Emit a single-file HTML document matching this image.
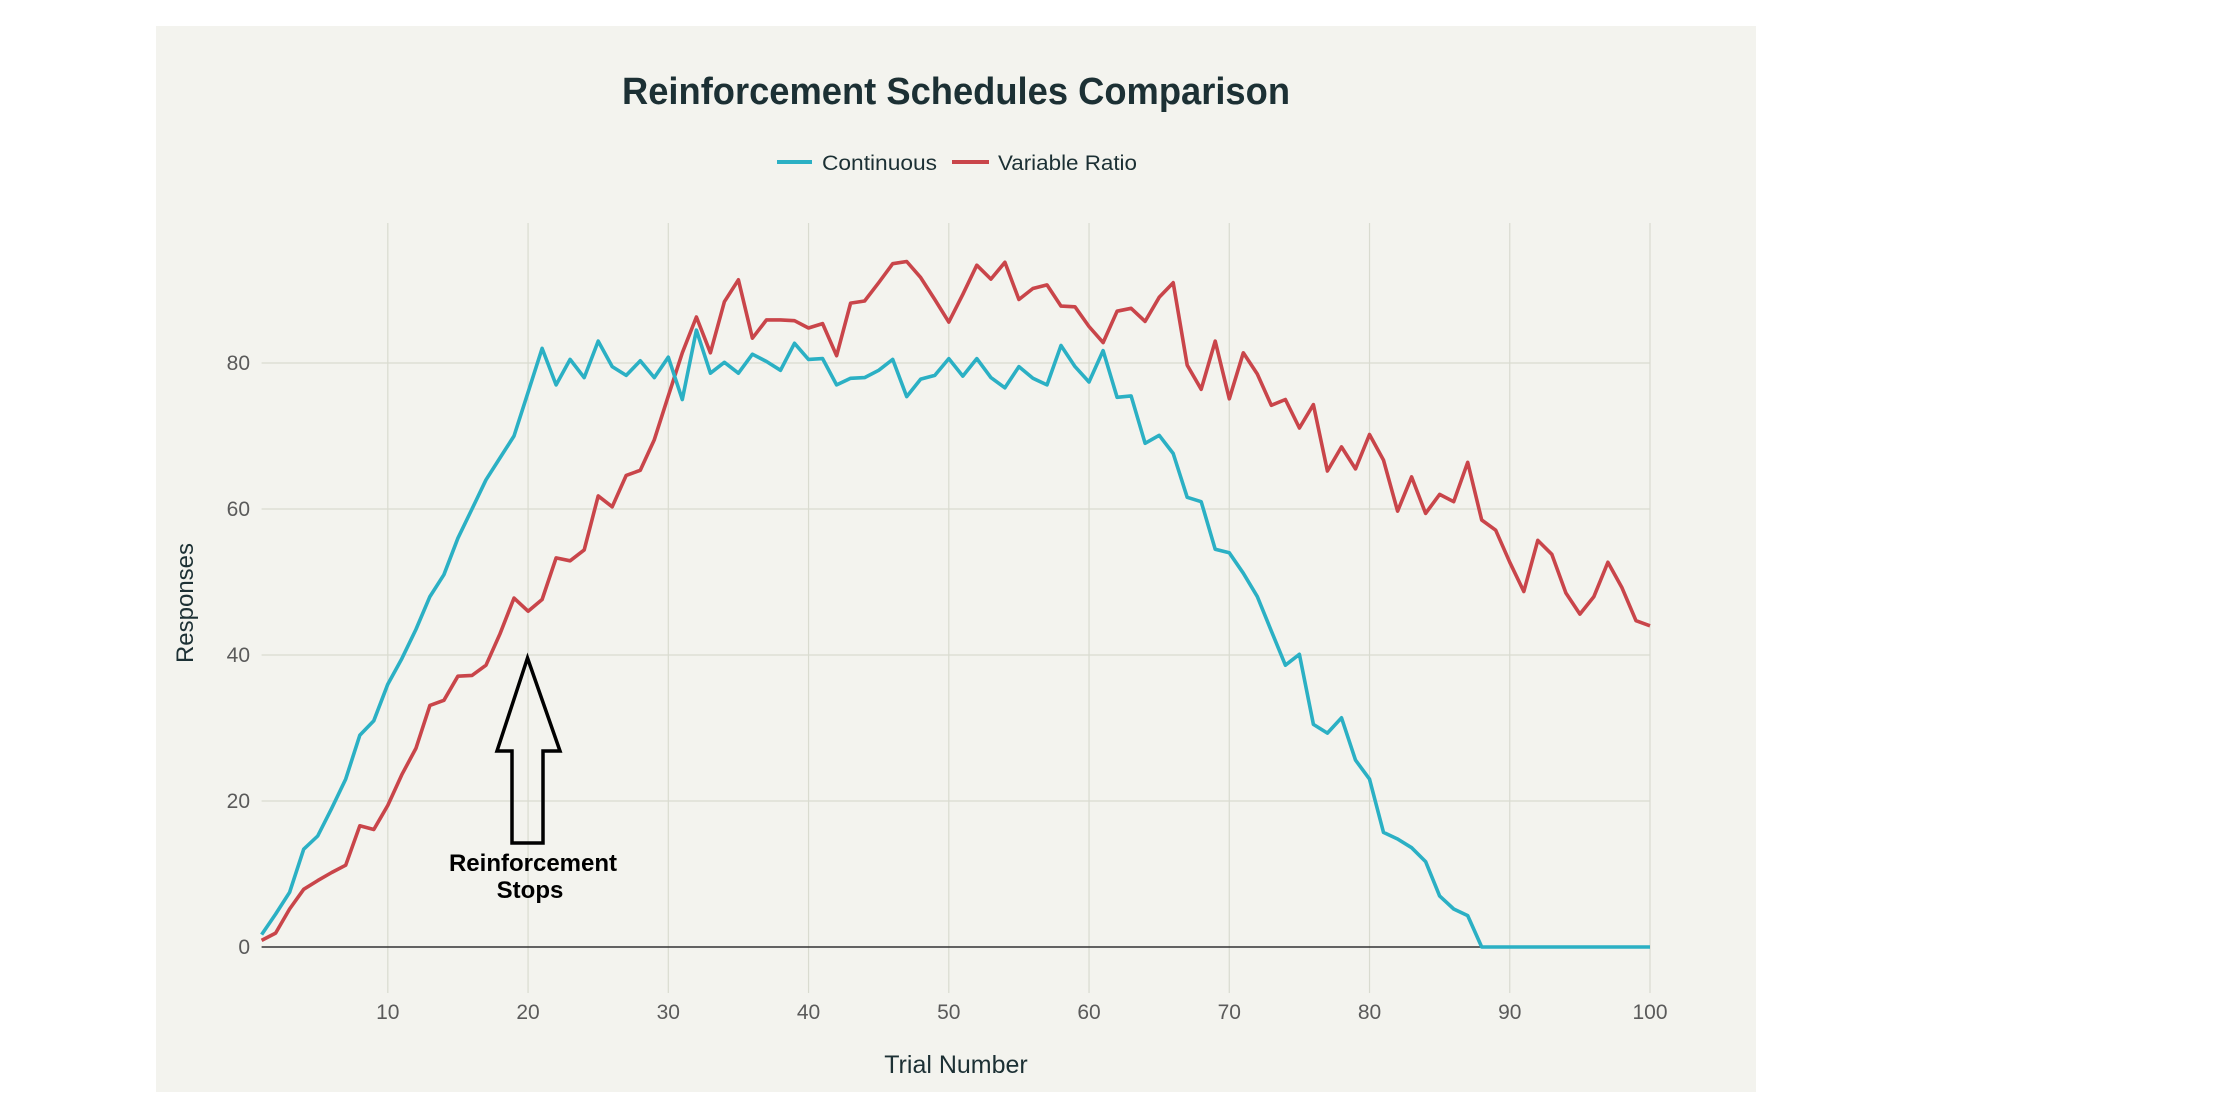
<!DOCTYPE html>
<html><head><meta charset="utf-8"><style>
html,body{margin:0;padding:0;background:#fff;}
svg{display:block;font-family:"Liberation Sans",sans-serif;}
</style></head><body>
<svg id="chart" width="2226" height="1116" viewBox="0 0 2226 1116" xmlns="http://www.w3.org/2000/svg">
<rect x="156" y="26" width="1600" height="1066" fill="#f3f3ee"/>
<text x="956" y="104" text-anchor="middle" font-size="38" font-weight="bold" fill="#1c3034" textLength="668" lengthAdjust="spacingAndGlyphs">Reinforcement Schedules Comparison</text>
<g>
<line x1="777" y1="162" x2="812" y2="162" stroke="#2bb0c4" stroke-width="4"/>
<text x="822" y="170" font-size="21" fill="#1c3034" textLength="115" lengthAdjust="spacingAndGlyphs">Continuous</text>
<line x1="952" y1="162" x2="989" y2="162" stroke="#c9454a" stroke-width="4"/>
<text x="998" y="170" font-size="21" fill="#1c3034" textLength="139" lengthAdjust="spacingAndGlyphs">Variable Ratio</text>
</g>
<g id="grid"></g>
<g id="ticks"></g>
<g id="series"></g>
<text x="956" y="1073" text-anchor="middle" font-size="25" fill="#1c3034">Trial Number</text>
<text x="193" y="603" text-anchor="middle" font-size="24" fill="#1c3034" transform="rotate(-90 193 603)">Responses</text>
<g>
<polygon points="527.5,658 560,751 543,751 543,843 512,843 512,751 497,751" fill="none" stroke="#000" stroke-width="3.5"/>
<text x="533" y="871" text-anchor="middle" font-size="24" font-weight="bold" fill="#000">Reinforcement</text>
<text x="530" y="898" text-anchor="middle" font-size="24" font-weight="bold" fill="#000">Stops</text>
</g>
</svg>
<script>
const trials = Array.from({length:100},(_,i)=>i+1);
const continuous = [1.7,4.5,7.5,13.4,15.2,19,23,29,31,36,39.5,43.5,48,51,56,60,64,67,70,76,82,77,80.5,78,83,79.5,78.3,80.3,78,80.8,75,84.5,78.6,80.1,78.6,81.2,80.2,79,82.7,80.5,80.6,77,77.9,78,79,80.5,75.4,77.8,78.3,80.6,78.2,80.6,78,76.6,79.5,77.9,77,82.4,79.5,77.4,81.7,75.3,75.5,69,70.1,67.6,61.6,61,54.5,54,51.2,48,43.3,38.6,40.1,30.5,29.3,31.4,25.6,23,15.7,14.8,13.6,11.7,7,5.2,4.3,0,0,0,0,0,0,0,0,0,0,0,0,0];
const variableRatio = [0.9,1.9,5.2,7.9,9.1,10.2,11.2,16.6,16.1,19.4,23.6,27.2,33.1,33.8,37.1,37.2,38.6,42.9,47.8,46,47.6,53.3,52.9,54.4,61.8,60.3,64.6,65.3,69.5,75.5,81.4,86.3,81.4,88.4,91.4,83.4,85.9,85.9,85.8,84.8,85.4,81,88.2,88.5,91,93.6,93.9,91.7,88.7,85.6,89.4,93.4,91.5,93.8,88.7,90.2,90.7,87.8,87.7,85,82.8,87.1,87.5,85.7,89,91,79.7,76.4,83,75.1,81.4,78.5,74.2,75,71.1,74.3,65.2,68.5,65.5,70.2,66.7,59.7,64.4,59.4,62,61,66.4,58.5,57.1,52.7,48.7,55.7,53.8,48.5,45.6,48,52.7,49.2,44.7,44];
const xTicks = [10,20,30,40,50,60,70,80,90,100];
const yTicks = [0,20,40,60,80];

const NS='http://www.w3.org/2000/svg';
const X0=261.6, X1=1650, Y0=947, PXU=7.3;
const xs = v => X0 + (v-1)*(X1-X0)/99;
const ys = v => Y0 - v*PXU;
function mk(tag, attrs, parent){const e=document.createElementNS(NS,tag);for(const k in attrs)e.setAttribute(k,attrs[k]);parent.appendChild(e);return e;}
const grid=document.getElementById('grid'), ticks=document.getElementById('ticks'), series=document.getElementById('series');
xTicks.forEach(t=>{
  const l=mk('line',{x1:xs(t),x2:xs(t),y1:223,y2:993,stroke:'#d9dbd0','stroke-width':1.2},grid);
  
  
  const tx=mk('text',{x:xs(t),y:1019,'text-anchor':'middle','font-size':21,fill:'#5a5a5a'},ticks);
  tx.textContent=t;
  
  
});
yTicks.forEach(t=>{
  const l=mk('line',{x1:X0,x2:X1,y1:ys(t),y2:ys(t),stroke:t===0?'#333':'#d9dbd0','stroke-width':t===0?1.5:1.2},grid);
  
  
  const tx=mk('text',{x:250,y:ys(t)+7,'text-anchor':'end','font-size':21,fill:'#5a5a5a'},ticks);
  tx.textContent=t;
  
  
});
function line(vals,color,name){
  const d=vals.map((v,i)=>(i?'L':'M')+xs(trials[i]).toFixed(1)+','+ys(v).toFixed(1)).join('');
  const p=mk('path',{d:d,fill:'none',stroke:color,'stroke-width':3.6,'stroke-linejoin':'round'},series);
  
  
}
line(variableRatio,'#c9454a','variable-ratio-line');
line(continuous,'#2bb0c4','continuous-line');
</script>
</body></html>
